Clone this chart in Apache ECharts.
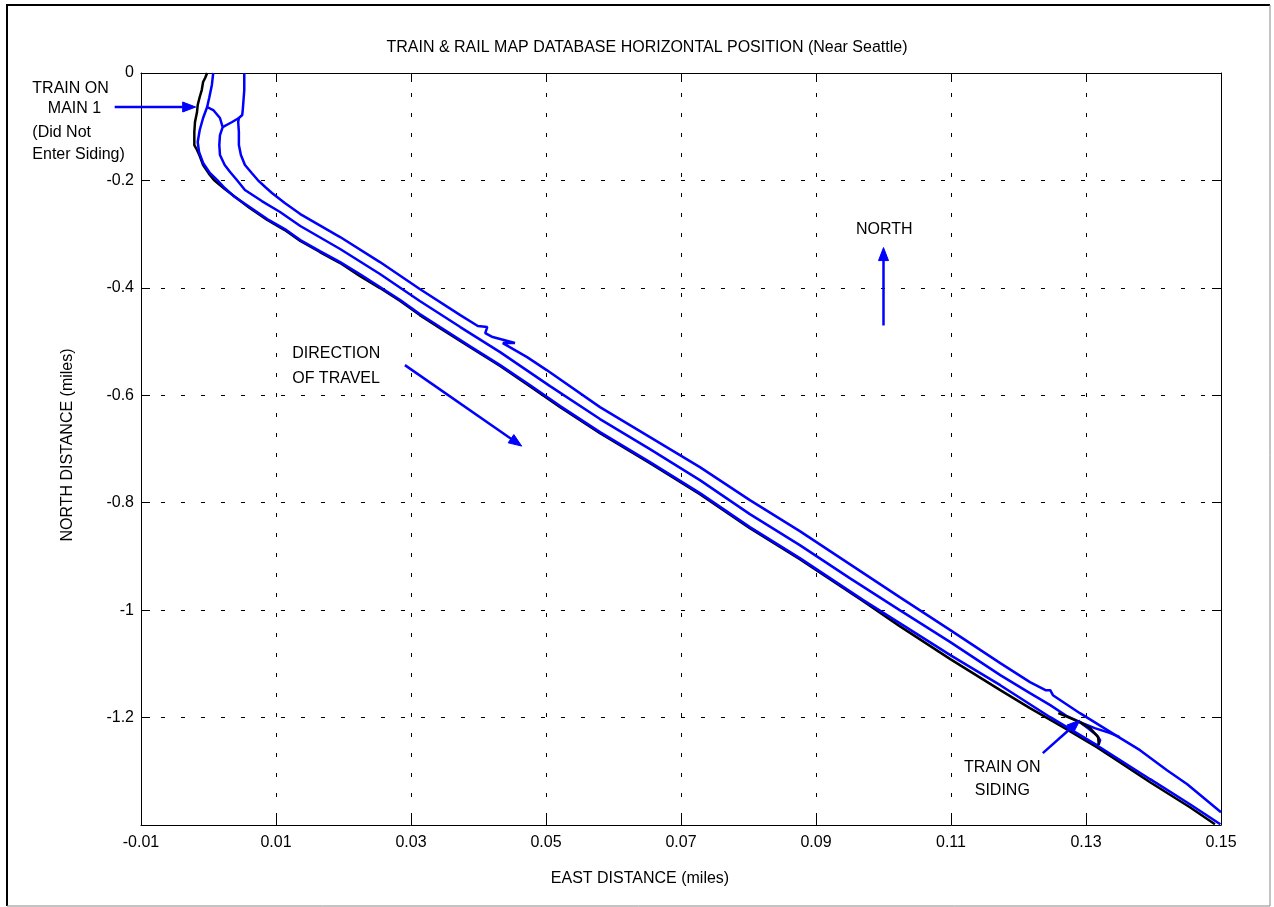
<!DOCTYPE html>
<html>
<head>
<meta charset="utf-8">
<script src="https://cdn.jsdelivr.net/npm/echarts@6/dist/echarts.min.js"></script>
<style>
  html, body { margin: 0; padding: 0; background: #fff; }
  #chart-container { width: 1274px; height: 907px; }
</style>
</head>
<body>
<div id="chart-container"></div>
<script>
var dom = document.getElementById('chart-container');
var myChart = echarts.init(dom, null, { renderer: 'canvas' });

// axis ticks (miles)
var eastTicks = [-0.01, 0.01, 0.03, 0.05, 0.07, 0.09, 0.11, 0.13, 0.15];
var northTicks = [0, -0.2, -0.4, -0.6, -0.8, -1, -1.2];
// ticks start at -0.01, so x is shifted by this much to keep min a multiple of the interval
var EAST_SHIFT = 0.01;

// train GPS trace (black)
var trainEast = [-0.0002, -0.0005, -0.0008, -0.001, -0.0013, -0.0016, -0.0017, -0.002, -0.0021, -0.0021,
  -0.0017, -0.0013, -0.0008, 0.0002, 0.0008, 0.0024, 0.0061, 0.0087, 0.0113, 0.0136, 0.0165, 0.0195,
  0.0224, 0.0254, 0.0284, 0.0313, 0.0343, 0.0387, 0.0432, 0.0476, 0.0521, 0.058, 0.0654, 0.0728, 0.0802,
  0.0876, 0.097, 0.1024, 0.1099, 0.1173, 0.1217, 0.1266, 0.1316, 0.135, 0.1395, 0.1454, 0.1491];
var trainNorth = [0, -0.0093, -0.0168, -0.0317, -0.0447, -0.0596, -0.0726, -0.0912, -0.1099, -0.1341,
  -0.1434, -0.1546, -0.1713, -0.1899, -0.1993, -0.216, -0.2514, -0.2737, -0.2924, -0.3128, -0.3333, -0.3538,
  -0.378, -0.4004, -0.4246, -0.4507, -0.4749, -0.5102, -0.5456, -0.5829, -0.622, -0.6704, -0.7263, -0.784, -0.8473,
  -0.905, -0.9832, -1.0298, -1.0912, -1.149, -1.1825, -1.2179, -1.2551, -1.283, -1.3203, -1.3669, -1.3985];

// short piece of the train trace on the siding
var trainSidingEast = [0.1259, 0.1291, 0.1306, 0.1318, 0.1319];
var trainSidingNorth = [-1.1918, -1.2086, -1.2197, -1.2365, -1.2514];

// rail map: main 1
var main1East = [0.0007, 0.0005, 0.0001, -0.0002, -0.0008, -0.0013, -0.0016, -0.0014, -0.0008, 0.0002,
  0.0013, 0.0024, 0.0039, 0.0061, 0.0087, 0.0113, 0.0136, 0.0165, 0.0195, 0.0224, 0.0254, 0.0284, 0.0313,
  0.0343, 0.0387, 0.0432, 0.0476, 0.0521, 0.058, 0.0654, 0.0728, 0.0802, 0.0876, 0.097, 0.1024, 0.1099,
  0.1173, 0.1247, 0.1316, 0.1395, 0.1454, 0.1499];
var main1North = [0, -0.0223, -0.0466, -0.0633, -0.0838, -0.1061, -0.1285, -0.1471, -0.1676, -0.1862,
  -0.1993, -0.2142, -0.231, -0.2495, -0.2719, -0.2905, -0.311, -0.3315, -0.352, -0.3743, -0.3985, -0.4227, -0.4488,
  -0.473, -0.5084, -0.5438, -0.581, -0.6201, -0.6685, -0.7244, -0.7821, -0.8454, -0.9032, -0.9814, -1.0242, -1.0838,
  -1.1397, -1.1993, -1.2514, -1.3147, -1.3613, -1.3985];

// rail map: siding (branches off main 1)
var sidingEast = [-0.0002, 0.0007, 0.0017, 0.0021, 0.0017, 0.0016, 0.0017, 0.0024, 0.0032, 0.0042,
  0.0054, 0.0079, 0.0106, 0.0136, 0.0195, 0.0254, 0.0313, 0.0373, 0.0432, 0.0506, 0.058, 0.0654, 0.0728,
  0.0802, 0.0876, 0.095, 0.1024, 0.1099, 0.1173, 0.1217, 0.1247, 0.1272, 0.1291, 0.1313, 0.1336, 0.135];
var sidingNorth = [-0.0633, -0.0689, -0.0838, -0.1006, -0.1155, -0.1341, -0.1527, -0.1713, -0.1844, -0.1993,
  -0.2179, -0.2384, -0.2588, -0.2849, -0.3277, -0.3743, -0.4246, -0.473, -0.5196, -0.5829, -0.6443, -0.7002, -0.7579,
  -0.8212, -0.879, -0.9404, -1.0, -1.0596, -1.121, -1.1546, -1.1769, -1.1974, -1.2086, -1.2197, -1.229, -1.2365];

// rail map: main 2
var main2East = [0.0053, 0.0053, 0.0051, 0.005, 0.0045, 0.0044, 0.0045, 0.0045, 0.0048, 0.0054, 0.0064,
  0.0073, 0.0084, 0.0094, 0.0113, 0.0136, 0.0195, 0.0254, 0.0313, 0.0373, 0.0399, 0.0413, 0.041, 0.0421,
  0.0454, 0.0436, 0.0472, 0.0501, 0.058, 0.0654, 0.0728, 0.0802, 0.0876, 0.095, 0.1024, 0.1099, 0.1173,
  0.1217, 0.124, 0.1247, 0.1251, 0.1291, 0.1346, 0.138, 0.142, 0.145, 0.15];
var main2North = [0, -0.0317, -0.0652, -0.0782, -0.0838, -0.0912, -0.1099, -0.1341, -0.1527, -0.1713, -0.1862,
  -0.1993, -0.2123, -0.2235, -0.2421, -0.2626, -0.3054, -0.352, -0.4022, -0.4507, -0.4711, -0.473, -0.4842, -0.4916,
  -0.5028, -0.5028, -0.5289, -0.5531, -0.622, -0.6778, -0.7337, -0.7952, -0.8529, -0.9143, -0.9758, -1.0372, -1.0987,
  -1.1341, -1.149, -1.149, -1.1583, -1.1918, -1.2346, -1.2607, -1.298, -1.324, -1.3762];

// crossover siding -> main 2 near the top
var crossoverEast = [0.0045, 0.0035, 0.0021];
var crossoverNorth = [-0.0838, -0.0912, -0.1006];

// turnout siding -> main 1 near the bottom
var sidingLoopEast = [0.1291, 0.1303, 0.1316, 0.1321, 0.1319, 0.1316];
var sidingLoopNorth = [-1.2086, -1.2197, -1.2328, -1.2421, -1.2495, -1.2514];

// annotations (data coordinates)
var arrows = [
  { from: [-0.0139, -0.0633], to: [-0.0019, -0.0633] },
  { from: [0.1, -0.47], to: [0.1, -0.325] },
  { from: [0.0291, -0.5438], to: [0.0464, -0.6946] },
  { from: [0.1236, -1.2663], to: [0.1291, -1.2048] }
];
var notes = [
  { text: 'TRAIN ON', at: [-0.0261, -0.0298], align: 'left' },
  { text: 'MAIN 1', at: [-0.0238, -0.067], align: 'left' },
  { text: '(Did Not', at: [-0.0261, -0.1117], align: 'left' },
  { text: 'Enter Siding)', at: [-0.0261, -0.1527], align: 'left' },
  { text: 'NORTH', at: [0.1001, -0.2924], align: 'center' },
  { text: 'DIRECTION', at: [0.0124, -0.5233], align: 'left' },
  { text: 'OF TRAVEL', at: [0.0124, -0.5698], align: 'left' },
  { text: 'TRAIN ON', at: [0.1176, -1.2924], align: 'center' },
  { text: 'SIDING', at: [0.1176, -1.3352], align: 'center' }
];

var FONT = '"Liberation Sans", Arial, sans-serif';

function pairs(xs, ys) {
  return xs.map(function (x, i) { return [x + EAST_SHIFT, ys[i]]; });
}

function track(name, xs, ys, color) {
  return {
    name: name,
    type: 'line',
    data: pairs(xs, ys),
    showSymbol: false,
    symbol: 'none',
    lineStyle: { color: color, width: 2.5 },
    itemStyle: { color: color },
    animation: false
  };
}

var frameAxis = {
  type: 'value',
  min: 0,
  max: 0.16,
  interval: 0.02,
  axisLine: { show: true, onZero: false, lineStyle: { color: '#000', width: 1 } },
  axisTick: { show: true, inside: true, length: 9, lineStyle: { color: '#000' } }
};

var option = {
  backgroundColor: '#fff',
  animation: false,
  grid: { left: 141, right: 53, top: 73, bottom: 82, containLabel: false },
  xAxis: [
    Object.assign({}, frameAxis, {
      position: 'bottom',
      axisLabel: {
        color: '#000', fontSize: 16, fontFamily: FONT, margin: 10,
        formatter: function (v) { return (v - EAST_SHIFT).toFixed(2); }
      },
      splitLine: { show: true, lineStyle: { color: '#000', width: 1, type: [4, 16] } }
    }),
    Object.assign({}, frameAxis, {
      position: 'top',
      axisLabel: { show: false },
      splitLine: { show: false }
    })
  ],
  yAxis: [
    {
      type: 'value', min: -1.4, max: 0, interval: 0.2, position: 'left',
      axisLine: { show: true, onZero: false, lineStyle: { color: '#000', width: 1 } },
      axisTick: { show: true, inside: true, length: 9, lineStyle: { color: '#000' } },
      axisLabel: {
        color: '#000', fontSize: 16, fontFamily: FONT, margin: 7,
        formatter: function (v) {
          var r = Math.round(v * 10) / 10;
          return northTicks.indexOf(r) >= 0 ? String(r) : '';
        }
      },
      splitLine: { show: true, lineStyle: { color: '#000', width: 1, type: [4, 16] } }
    },
    {
      type: 'value', min: -1.4, max: 0, interval: 0.2, position: 'right',
      axisLine: { show: true, onZero: false, lineStyle: { color: '#000', width: 1 } },
      axisTick: { show: true, inside: true, length: 9, lineStyle: { color: '#000' } },
      axisLabel: { show: false },
      splitLine: { show: false }
    }
  ],
  series: [
    track('Train', trainEast, trainNorth, '#000000'),
    track('Main 1', main1East, main1North, '#0000ff'),
    track('Siding', sidingEast, sidingNorth, '#0000ff'),
    track('Main 2', main2East, main2North, '#0000ff'),
    track('Crossover', crossoverEast, crossoverNorth, '#0000ff'),
    track('Turnout', sidingLoopEast, sidingLoopNorth, '#0000ff'),
    track('Train on siding', trainSidingEast, trainSidingNorth, '#000000')
  ]
};

myChart.setOption(option);

function toPx(p) {
  return myChart.convertToPixel({ seriesIndex: 0 }, [p[0] + EAST_SHIFT, p[1]]);
}

function arrowShapes(a, b) {
  var p = toPx(a), q = toPx(b);
  var dx = q[0] - p[0], dy = q[1] - p[1];
  var len = Math.sqrt(dx * dx + dy * dy);
  var ux = dx / len, uy = dy / len;
  var headLen = 13, half = 5;
  var bx = q[0] - ux * headLen, by = q[1] - uy * headLen;
  return [
    { type: 'line', shape: { x1: p[0], y1: p[1], x2: bx, y2: by }, style: { stroke: '#0000ff', lineWidth: 2.5 }, z: 100 },
    { type: 'polygon', shape: { points: [[q[0], q[1]], [bx - uy * half, by + ux * half], [bx + uy * half, by - ux * half]] },
      style: { fill: '#0000ff', stroke: '#0000ff', lineWidth: 1 }, z: 100 }
  ];
}

var graphics = [];
// figure border
graphics.push({ type: 'line', shape: { x1: 6, y1: 5, x2: 1270, y2: 5 }, style: { stroke: '#000', lineWidth: 2 } });
graphics.push({ type: 'line', shape: { x1: 7, y1: 5, x2: 7, y2: 906 }, style: { stroke: '#000', lineWidth: 2 } });
graphics.push({ type: 'line', shape: { x1: 1270, y1: 5, x2: 1270, y2: 906 }, style: { stroke: '#888', lineWidth: 1 } });
graphics.push({ type: 'line', shape: { x1: 7, y1: 906, x2: 1270, y2: 906 }, style: { stroke: '#888', lineWidth: 1 } });

// title and axis names
graphics.push({ type: 'text', x: 647, y: 48, style: { text: 'TRAIN & RAIL MAP DATABASE HORIZONTAL POSITION (Near Seattle)', font: '16px ' + FONT, fill: '#000', align: 'center', verticalAlign: 'middle' } });
graphics.push({ type: 'text', x: 640, y: 879, style: { text: 'EAST DISTANCE (miles)', font: '16px ' + FONT, fill: '#000', align: 'center', verticalAlign: 'middle' } });
graphics.push({ type: 'text', x: 68, y: 445, rotation: Math.PI / 2, style: { text: 'NORTH DISTANCE (miles)', font: '16px ' + FONT, fill: '#000', align: 'center', verticalAlign: 'middle' } });

arrows.forEach(function (a) {
  graphics = graphics.concat(arrowShapes(a.from, a.to));
});
notes.forEach(function (n) {
  var p = toPx(n.at);
  graphics.push({ type: 'text', x: p[0], y: p[1], z: 100, style: { text: n.text, font: '16px ' + FONT, fill: '#000', align: n.align, verticalAlign: 'middle' } });
});

myChart.setOption({ graphic: graphics });
</script>
</body>
</html>
